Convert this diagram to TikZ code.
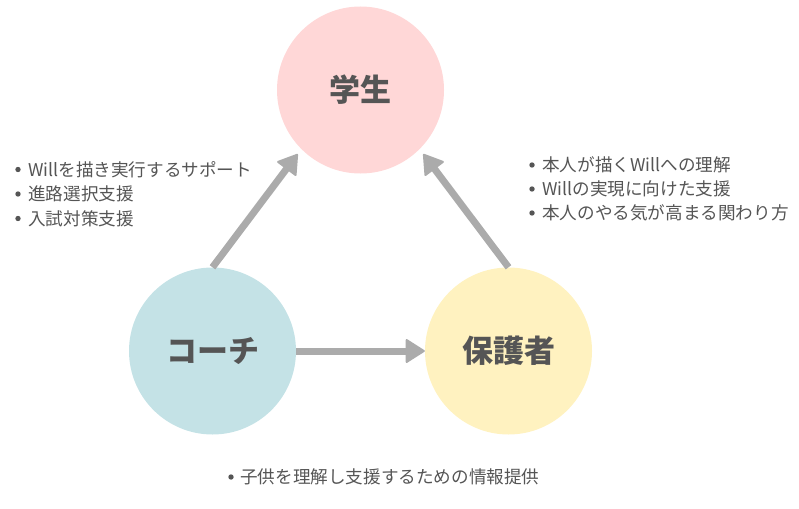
\documentclass[tikz,border=0pt]{standalone}
\usepackage{fontspec}
\setmainfont{Noto Sans CJK JP}
\usepackage{tikz}
\usetikzlibrary{arrows.meta}
\definecolor{txtgray}{HTML}{555555}
\definecolor{arrowgray}{HTML}{ABABAB}
\definecolor{pinkbg}{HTML}{FFD7D7}
\definecolor{bluebg}{HTML}{C4E2E6}
\definecolor{yellowbg}{HTML}{FFF2C0}

\begin{document}
\begin{tikzpicture}[
    x=1pt, y=-1pt,
    role/.style={
        circle,
        minimum size=167pt,
        inner sep=0pt,
        text=txtgray,
        font=\fontsize{31}{36}\selectfont\bfseries
    },
    point/.style={
        anchor=west,
        inner sep=0pt,
        text=txtgray,
        font=\fontsize{17.6}{20}\selectfont
    },
    arrow/.style={-{Triangle[length=20pt,width=25pt,round,line width=2pt]}, line width=7pt, draw=arrowgray}
]
\useasboundingbox (0,0) rectangle (799,508);

% Personas
\node[role, fill=pinkbg] (student) at (360.5,90) {学生};
\node[role, fill=bluebg] (coach) at (212.5,351) {コーチ};
\node[role, fill=yellowbg] (parent) at (508.5,351) {保護者};

% Flechas
\draw[arrow, shorten >=6pt] (coach.north) -- (student.225);
\draw[arrow, shorten >=6pt] (parent.north) -- (student.-45);
\draw[arrow] (coach.east) -- (parent.west);

% Listas
\foreach \txt [count=\i] in {Willを描き実行するサポート, 進路選択支援, 入試対策支援} {
    \node[point] (cl\i) at (28,145+24.5*\i) {\txt};
    \fill[txtgray] (18,145+24.5*\i) circle (2.7);
}
\foreach \txt [count=\i] in {本人が描くWillへの理解, Willの実現に向けた支援, 本人のやる気が高まる関わり方} {
    \node[point] (pl\i) at (542,141+24*\i) {\txt};
    \fill[txtgray] (532,141+24*\i) circle (2.7);
}
\node[point] (info) at (240,477) {子供を理解し支援するための情報提供};
\fill[txtgray] (231,477) circle (2.7);

\end{tikzpicture}
\end{document}
